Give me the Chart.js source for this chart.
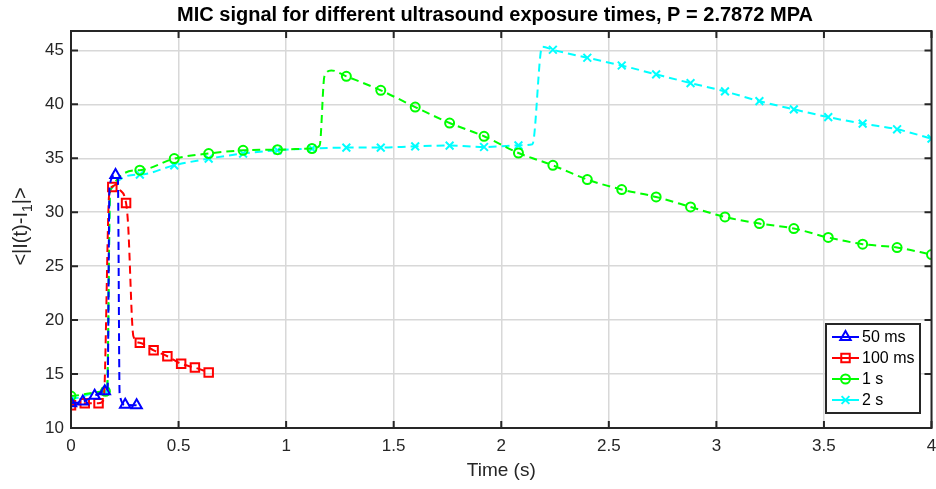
<!DOCTYPE html>
<html>
<head>
<meta charset="utf-8">
<script src="https://cdn.jsdelivr.net/npm/chart.js@4.4.1/dist/chart.umd.min.js"></script>
<style>
  html, body { margin: 0; padding: 0; background: #fff; }
  #wrap { width: 936px; height: 489px; }
</style>
</head>
<body>
<div id="wrap"><canvas id="myChart" width="936" height="489"></canvas></div>
<script>
// ---- data ----
var xTicks = [0, 0.5, 1, 1.5, 2, 2.5, 3, 3.5, 4];
var yTicks = [10, 15, 20, 25, 30, 35, 40, 45];
var seriesNames = ['50 ms', '100 ms', '1 s', '2 s'];

// marked samples
var t50 = [0, 0.055, 0.11, 0.157, 0.207, 0.252, 0.305];
var v50 = [12.3, 12.45, 13.0, 13.4, 33.45, 12.15, 12.1];
// extra samples of the line between markers
var t50Line = [0.17, 0.179, 0.218, 0.226];
var v50Line = [13.5, 32.4, 33.0, 13.2];

var t100 = [0, 0.064, 0.128, 0.192, 0.256, 0.32, 0.384, 0.448, 0.512, 0.576, 0.64];
var v100 = [12.1, 12.3, 12.3, 32.35, 30.85, 17.9, 17.2, 16.65, 15.95, 15.6, 15.15];
var t100Line = [0.152, 0.178, 0.212, 0.222, 0.265, 0.29];
var v100Line = [12.6, 31.8, 32.6, 32.2, 29.0, 18.5];

var t1s = [0, 0.16, 0.32, 0.48, 0.64, 0.8, 0.96, 1.12, 1.28, 1.44, 1.6, 1.76, 1.92,
           2.08, 2.24, 2.4, 2.56, 2.72, 2.88, 3.04, 3.2, 3.36, 3.52, 3.68, 3.84, 4.0];
var v1s = [12.96, 13.4, 33.9, 34.97, 35.44, 35.74, 35.8, 35.9, 42.6, 41.3, 39.75, 38.27, 37.04,
           35.49, 34.35, 33.03, 32.1, 31.42, 30.49, 29.56, 28.95, 28.49, 27.66, 27.04, 26.73, 26.08];
var t1sLine = [0.168, 0.182, 1.156, 1.178, 1.21];
var v1sLine = [13.6, 32.0, 36.2, 42.6, 43.15];

var t2s = [0, 0.16, 0.32, 0.48, 0.64, 0.8, 0.96, 1.12, 1.28, 1.44, 1.6, 1.76, 1.92,
           2.08, 2.24, 2.4, 2.56, 2.72, 2.88, 3.04, 3.2, 3.36, 3.52, 3.68, 3.84, 4.0];
var v2s = [12.66, 13.4, 33.49, 34.35, 34.97, 35.44, 35.74, 35.9, 35.99, 35.99, 36.11, 36.18, 36.05,
           36.2, 45.06, 44.32, 43.6, 42.78, 41.97, 41.2, 40.3, 39.54, 38.82, 38.21, 37.69, 36.82];
var t2sLine = [0.168, 0.182, 2.145, 2.19];
var v2sLine = [13.6, 32.0, 36.3, 45.35];

var colors = ['#0000ff', '#ff0000', '#00ff00', '#00ffff'];
var markers = ['triangle', 'rect', 'circle', 'crossRot'];
var markerSize = [6, 6, 4.5, 5.5];

var FONT = "Arial, 'Liberation Sans', Helvetica, sans-serif";

// merge marked samples with in-between line samples
function buildSeries(t, v, tl, vl) {
    var pts = [];
    for (var i = 0; i < t.length; i++) pts.push({ x: t[i], y: v[i], m: true });
    for (var j = 0; j < tl.length; j++) pts.push({ x: tl[j], y: vl[j], m: false });
    pts.sort(function (a, b) { return a.x - b.x; });
    return pts;
}

var raw = [
    buildSeries(t50, v50, t50Line, v50Line),
    buildSeries(t100, v100, t100Line, v100Line),
    buildSeries(t1s, v1s, t1sLine, v1sLine),
    buildSeries(t2s, v2s, t2sLine, v2sLine)
];

var datasets = raw.map(function (pts, k) {
    return {
        label: seriesNames[k],
        data: pts.map(function (p) { return { x: p.x, y: p.y }; }),
        borderColor: colors[k],
        borderWidth: 2,
        borderDash: [8, 5],
        cubicInterpolationMode: 'monotone',
        pointStyle: markers[k],
        pointRadius: pts.map(function (p) { return p.m ? markerSize[k] : 0; }),
        pointHoverRadius: 0,
        pointBorderWidth: 2,
        pointBorderColor: colors[k],
        pointBackgroundColor: 'rgba(0,0,0,0)',
        fill: false
    };
});

function drawMarker(ctx, style, r, x, y) {
    if (Chart.helpers && Chart.helpers.drawPoint) {
        Chart.helpers.drawPoint(ctx, { pointStyle: style, radius: r, rotation: 0, borderWidth: 2 }, x, y);
    }
}

var axesBox = {
    id: 'axesBox',
    afterDraw: function (chart) {
        var ctx = chart.ctx, a = chart.chartArea;
        var xs = chart.scales.x, ys = chart.scales.y;
        ctx.save();
        ctx.strokeStyle = '#262626';
        ctx.lineWidth = 2;
        ctx.setLineDash([]);
        ctx.strokeRect(a.left, a.top, a.right - a.left, a.bottom - a.top);
        ctx.beginPath();
        xTicks.forEach(function (v) {
            var px = xs.getPixelForValue(v);
            ctx.moveTo(px, a.bottom); ctx.lineTo(px, a.bottom - 7);
            ctx.moveTo(px, a.top); ctx.lineTo(px, a.top + 7);
        });
        yTicks.forEach(function (v) {
            var py = ys.getPixelForValue(v);
            ctx.moveTo(a.left, py); ctx.lineTo(a.left + 7, py);
            ctx.moveTo(a.right, py); ctx.lineTo(a.right - 7, py);
        });
        ctx.stroke();

        // title
        ctx.fillStyle = '#000';
        ctx.font = 'bold 20px ' + FONT;
        ctx.textAlign = 'center';
        ctx.textBaseline = 'middle';
        ctx.fillText('MIC signal for different ultrasound exposure times, P = 2.7872 MPA', 495, 15);

        // x axis title
        ctx.fillStyle = '#262626';
        ctx.font = '19px ' + FONT;
        ctx.fillText('Time (s)', (a.left + a.right) / 2, 471);

        // y axis title with subscript
        ctx.save();
        ctx.translate(21, (a.top + a.bottom) / 2 - 3);
        ctx.rotate(-Math.PI / 2);
        var s1 = '<|I(t)-I', s2 = '1', s3 = '|>';
        ctx.font = '20px ' + FONT;
        var w1 = ctx.measureText(s1).width, w3 = ctx.measureText(s3).width;
        ctx.font = '14px ' + FONT;
        var w2 = ctx.measureText(s2).width;
        var x0 = -(w1 + w2 + w3) / 2;
        ctx.textAlign = 'left';
        ctx.font = '20px ' + FONT;
        ctx.fillText(s1, x0, 0);
        ctx.font = '14px ' + FONT;
        ctx.fillText(s2, x0 + w1, 7);
        ctx.font = '20px ' + FONT;
        ctx.fillText(s3, x0 + w1 + w2, 0);
        ctx.restore();

        // legend
        var lx = 826, ly = 324, lw = 94, lh = 89;
        ctx.fillStyle = '#fff';
        ctx.fillRect(lx, ly, lw, lh);
        ctx.strokeStyle = '#262626';
        ctx.lineWidth = 2;
        ctx.strokeRect(lx, ly, lw, lh);
        ctx.font = '16px ' + FONT;
        ctx.textAlign = 'left';
        ctx.textBaseline = 'middle';
        seriesNames.forEach(function (name, k) {
            var ry = ly + 13 + k * 21;
            ctx.strokeStyle = colors[k];
            ctx.fillStyle = 'rgba(0,0,0,0)';
            ctx.lineWidth = 2;
            ctx.beginPath();
            ctx.moveTo(lx + 6, ry); ctx.lineTo(lx + 33, ry);
            ctx.stroke();
            drawMarker(ctx, markers[k], markerSize[k], lx + 19.5, ry);
            ctx.fillStyle = '#000';
            ctx.fillText(name, lx + 36, ry + 1);
        });
        ctx.restore();
    }
};

var ctx = document.getElementById('myChart').getContext('2d');
var chart = new Chart(ctx, {
    type: 'line',
    data: { datasets: datasets },
    options: {
        responsive: false,
        animation: false,
        layout: { autoPadding: false, padding: { top: 31, right: 4.5, left: 0, bottom: 0 } },
        plugins: {
            legend: { display: false },
            title: { display: false },
            tooltip: { enabled: false }
        },
        scales: {
            x: {
                type: 'linear',
                min: 0,
                max: 4,
                afterBuildTicks: function (s) { s.ticks = xTicks.map(function (v) { return { value: v }; }); },
                afterFit: function (s) { s.height = 61; s.paddingLeft = 0; s.paddingRight = 0; },
                grid: { color: '#d8d8d8', lineWidth: 1.5, drawTicks: false },
                border: { display: false },
                ticks: {
                    color: '#262626', padding: 8, maxRotation: 0, autoSkip: false,
                    font: { size: 17, family: FONT },
                    callback: function (v) { return String(v); }
                }
            },
            y: {
                type: 'linear',
                min: 10,
                max: 46.8,
                afterBuildTicks: function (s) { s.ticks = yTicks.map(function (v) { return { value: v }; }); },
                afterFit: function (s) { s.width = 71; },
                grid: { color: '#d8d8d8', lineWidth: 1.5, drawTicks: false },
                border: { display: false },
                ticks: {
                    color: '#262626', padding: 7,
                    font: { size: 17, family: FONT },
                    callback: function (v) { return String(v); }
                }
            }
        }
    },
    plugins: [axesBox]
});
</script>
</body>
</html>
